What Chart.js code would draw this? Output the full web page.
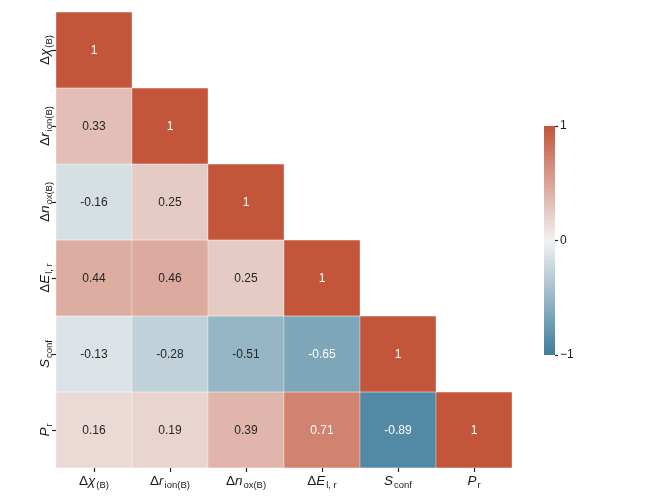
<!DOCTYPE html>
<html>
<head>
<meta charset="utf-8">
<script src="https://cdn.jsdelivr.net/npm/chart.js@4.4.1/dist/chart.umd.min.js"></script>
<style>
  html, body { margin: 0; padding: 0; background: #ffffff; }
  #wrap { position: relative; width: 650px; height: 500px; }
  #main { position: absolute; left: 0; top: 0; }
  #cbar { position: absolute; left: 530px; top: 0; }
</style>
</head>
<body>
<div id="wrap">
  <canvas id="main" width="650" height="500"></canvas>
  <canvas id="cbar" width="120" height="500"></canvas>
</div>
<script>
// ---- Data (lower triangle of the correlation matrix) ----
const labelPrefix = ['Δ', 'Δ', 'Δ', 'Δ', '', ''];
const labelBase   = ['χ', 'r', 'n', 'E', 'S', 'P'];
const labelSub    = ['(B)', 'ion(B)', 'ox(B)', 'l, r', 'conf', 'r'];

const rowChi   = [1];
const rowRion  = [0.33, 1];
const rowNox   = [-0.16, 0.25, 1];
const rowE     = [0.44, 0.46, 0.25, 1];
const rowSconf = [-0.13, -0.28, -0.51, -0.65, 1];
const rowPr    = [0.16, 0.19, 0.39, 0.71, -0.89, 1];

const colorbarTicks = [-1, 0, 1];

const corrRows = [rowChi, rowRion, rowNox, rowE, rowSconf, rowPr];
const categories = labelBase.map((b, i) => 'v' + i);

// ---- Colour map (diverging blue - light grey - red) ----
const NEG = [62, 125, 155];
const MID = [242, 242, 242];
const POS = [195, 85, 59];
function cmap(v) {
  const t = Math.max(-1, Math.min(1, v));
  const end = t < 0 ? NEG : POS;
  const a = Math.abs(t);
  return MID.map((m, k) => Math.round(m + (end[k] - m) * a));
}
function rgbStr(c) { return 'rgb(' + c[0] + ',' + c[1] + ',' + c[2] + ')'; }
function luminance(c) {
  const lin = c.map(x => { x /= 255; return x <= 0.03928 ? x / 12.92 : Math.pow((x + 0.055) / 1.055, 2.4); });
  return 0.2126 * lin[0] + 0.7152 * lin[1] + 0.0722 * lin[2];
}

const FONT = '"Liberation Sans", Arial, Helvetica, sans-serif';

// ---- Datasets: one per row, floating bars spanning the row band ----
const datasets = corrRows.map((row, i) => ({
  label: labelBase[i],
  data: categories.map((c, j) => j < row.length ? [i - 0.5, i + 0.5] : null),
  backgroundColor: categories.map((c, j) => j < row.length ? rgbStr(cmap(row[j])) : 'rgba(0,0,0,0)'),
  borderColor: 'rgba(255,255,255,0.85)',
  borderWidth: 0.5,
  borderSkipped: false,
  barPercentage: 1,
  categoryPercentage: 1,
  grouped: false
}));

function drawAxisLabel(ctx, idx) {
  const fMain = '13.5px ' + FONT;
  const fIt = 'italic 13.5px ' + FONT;
  const fSub = '9.5px ' + FONT;
  ctx.font = fMain; const w1 = ctx.measureText(labelPrefix[idx]).width;
  ctx.font = fIt;   const w2 = ctx.measureText(labelBase[idx]).width;
  ctx.font = fSub;  const w3 = ctx.measureText(labelSub[idx]).width;
  let x = -(w1 + w2 + 1 + w3) / 2;
  ctx.textBaseline = 'alphabetic';
  ctx.textAlign = 'left';
  ctx.font = fMain; ctx.fillText(labelPrefix[idx], x, 0); x += w1;
  ctx.font = fIt;   ctx.fillText(labelBase[idx], x, 0); x += w2 + 1;
  ctx.font = fSub;  ctx.fillText(labelSub[idx], x, 3);
}

const labelPlugin = {
  id: 'heatLabels',
  afterDatasetsDraw(chart) {
    const ctx = chart.ctx;
    const xs = chart.scales.x, ys = chart.scales.y;
    ctx.save();
    // cell annotations
    ctx.font = '12px ' + FONT;
    ctx.textAlign = 'center';
    ctx.textBaseline = 'middle';
    corrRows.forEach((row, i) => {
      row.forEach((v, j) => {
        const c = cmap(v);
        ctx.fillStyle = luminance(c) > 0.408 ? '#262626' : '#ffffff';
        ctx.fillText(String(v), xs.getPixelForValue(j), ys.getPixelForValue(i) + 1);
      });
    });
    // axis labels
    ctx.fillStyle = '#1a1a1a';
    categories.forEach((c, j) => {
      ctx.save();
      ctx.translate(xs.getPixelForValue(j), xs.top + 17);
      drawAxisLabel(ctx, j);
      ctx.restore();
    });
    corrRows.forEach((row, i) => {
      ctx.save();
      ctx.translate(ys.right - 7, ys.getPixelForValue(i));
      ctx.rotate(-Math.PI / 2);
      drawAxisLabel(ctx, i);
      ctx.restore();
    });
    ctx.restore();
  }
};

new Chart(document.getElementById('main'), {
  type: 'bar',
  data: { labels: categories, datasets: datasets },
  options: {
    responsive: false,
    animation: false,
    devicePixelRatio: 1,
    layout: { padding: { left: 0, top: 12, right: 138, bottom: 0 } },
    plugins: { legend: { display: false }, tooltip: { enabled: false } },
    scales: {
      x: {
        type: 'category',
        offset: true,
        grid: { display: true, offset: false, drawOnChartArea: false, drawTicks: true, tickLength: 4, tickColor: '#222', tickWidth: 1.2 },
        border: { display: false },
        ticks: { display: false },
        afterFit(s) { s.height = 32; }
      },
      y: {
        type: 'linear',
        min: -0.5,
        max: 5.5,
        reverse: true,
        afterBuildTicks(s) { s.ticks = corrRows.map((r, i) => ({ value: i })); },
        grid: { display: true, drawOnChartArea: false, drawTicks: true, tickLength: 4, tickColor: '#222', tickWidth: 1.2 },
        border: { display: false },
        ticks: { display: false },
        afterFit(s) { s.width = 56; }
      }
    }
  },
  plugins: [labelPlugin]
});

// ---- Colour bar ----
new Chart(document.getElementById('cbar'), {
  type: 'bar',
  data: {
    labels: ['cb'],
    datasets: [{
      data: [[colorbarTicks[0], colorbarTicks[colorbarTicks.length - 1]]],
      backgroundColor(ctx) {
        const chart = ctx.chart;
        const y = chart.scales.y;
        if (!y || !chart.chartArea) return rgbStr(MID);
        const g = chart.ctx.createLinearGradient(0, y.getPixelForValue(-1), 0, y.getPixelForValue(1));
        g.addColorStop(0, rgbStr(cmap(-1)));
        g.addColorStop(0.5, rgbStr(cmap(0)));
        g.addColorStop(1, rgbStr(cmap(1)));
        return g;
      },
      borderWidth: 0,
      barPercentage: 1,
      categoryPercentage: 1
    }]
  },
  options: {
    responsive: false,
    animation: false,
    devicePixelRatio: 1,
    layout: { padding: { left: 14, top: 126, right: 60, bottom: 145 } },
    plugins: { legend: { display: false }, tooltip: { enabled: false } },
    scales: {
      x: { display: false },
      y: {
        position: 'right',
        min: -1,
        max: 1,
        afterBuildTicks(s) { s.ticks = colorbarTicks.map(v => ({ value: v })); },
        grid: { display: true, drawOnChartArea: false, drawTicks: true, tickLength: 3, tickColor: '#222', tickWidth: 1.2 },
        border: { display: false },
        ticks: {
          padding: 2,
          color: '#1a1a1a',
          font: { family: FONT, size: 12 },
          callback(v) { return v < 0 ? '\u2212' + Math.abs(v) : String(v); }
        },
        afterFit(s) { s.width = 35; }
      }
    }
  }
});
</script>
</body>
</html>
